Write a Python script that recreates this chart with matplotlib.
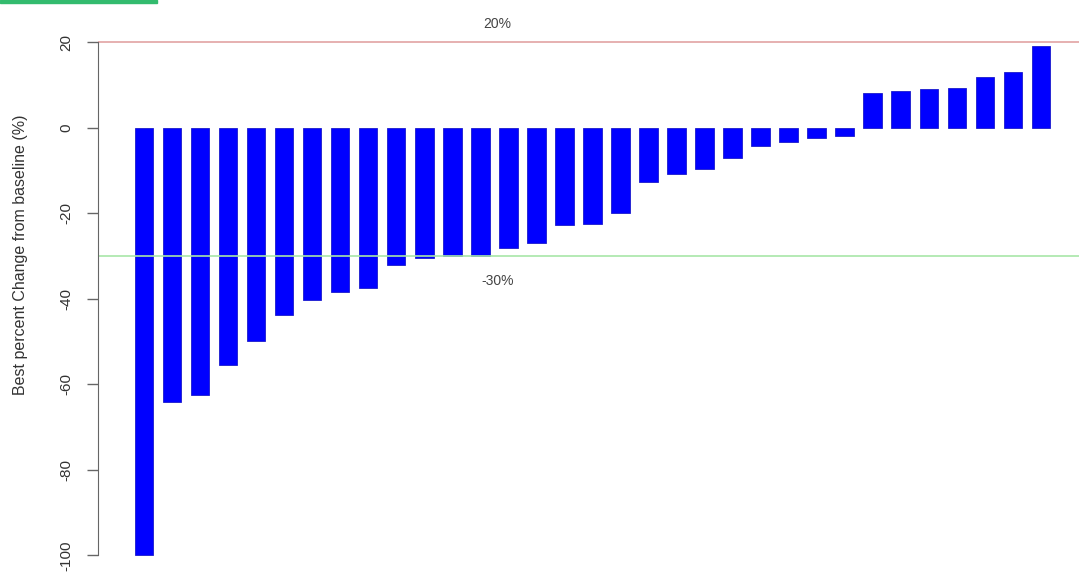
import numpy as np
import matplotlib
matplotlib.use("Agg")
import matplotlib.pyplot as plt
from matplotlib.patches import Rectangle

# best percent change per patient, sorted
change = [-100, -64.2, -62.5, -55.6, -50.0, -43.9, -40.2, -38.5, -37.4,
          -32.1, -30.4, -30.0, -30.0, -28.1, -27.0, -22.7, -22.5, -20.0,
          -12.7, -10.9, -9.6, -7.0, -4.2, -3.4, -2.4, -1.9,
          8.0, 8.6, 8.9, 9.3, 11.9, 13.1, 19.0]
yticks = [20, 0, -20, -40, -60, -80, -100]
upper = 20
lower = -30

plt.rcParams['font.family'] = ['Liberation Sans', 'DejaVu Sans']

W, H = 1079, 572
fig = plt.figure(figsize=(W / 100, H / 100), dpi=100)
ax = fig.add_axes([97.7 / W, 0, 1 - 97.7 / W, (H - 24.9) / H])

x = np.arange(len(change))
ax.bar(x, change, width=0.66, color='#0000ff', edgecolor='#1a1acc', linewidth=0.6)

ax.axhline(upper, color='#e2a3a3', lw=1.2)
ax.axhline(lower, color='#a8e6a8', lw=1.2)
ax.text(12.6, 24.3, "20%", ha='center', va='center', fontsize=10, color='#444444')
ax.text(12.6, -35.9, "-30%", ha='center', va='center', fontsize=10, color='#444444')

ax.set_xlim(-1.652, 33.36)
ax.set_ylim(-103.9, 24)
for s in ['top', 'right', 'bottom']:
    ax.spines[s].set_visible(False)
ax.spines['left'].set_bounds(-100, 20)
ax.spines['left'].set_color('#666666')
ax.set_xticks([])
ax.set_yticks(yticks)
ax.set_yticklabels([str(t) for t in yticks], rotation=90, va='center')
ax.tick_params(axis='y', length=7.7, width=1, color='#666666', pad=10,
               labelsize=11, labelcolor='#333333')

fig.text(21 / W, 1 - 255 / H, "Best percent Change from baseline (%)",
         rotation=90, ha='center', va='center', fontsize=11.5, color='#333333')

# green strip in the top-left corner of the screenshot
fig.patches.append(Rectangle((0, 1 - 3 / H), 157 / W, 3 / H, transform=fig.transFigure,
                             color='#33bb6e', zorder=5))

fig.savefig("out.png", dpi=100)
